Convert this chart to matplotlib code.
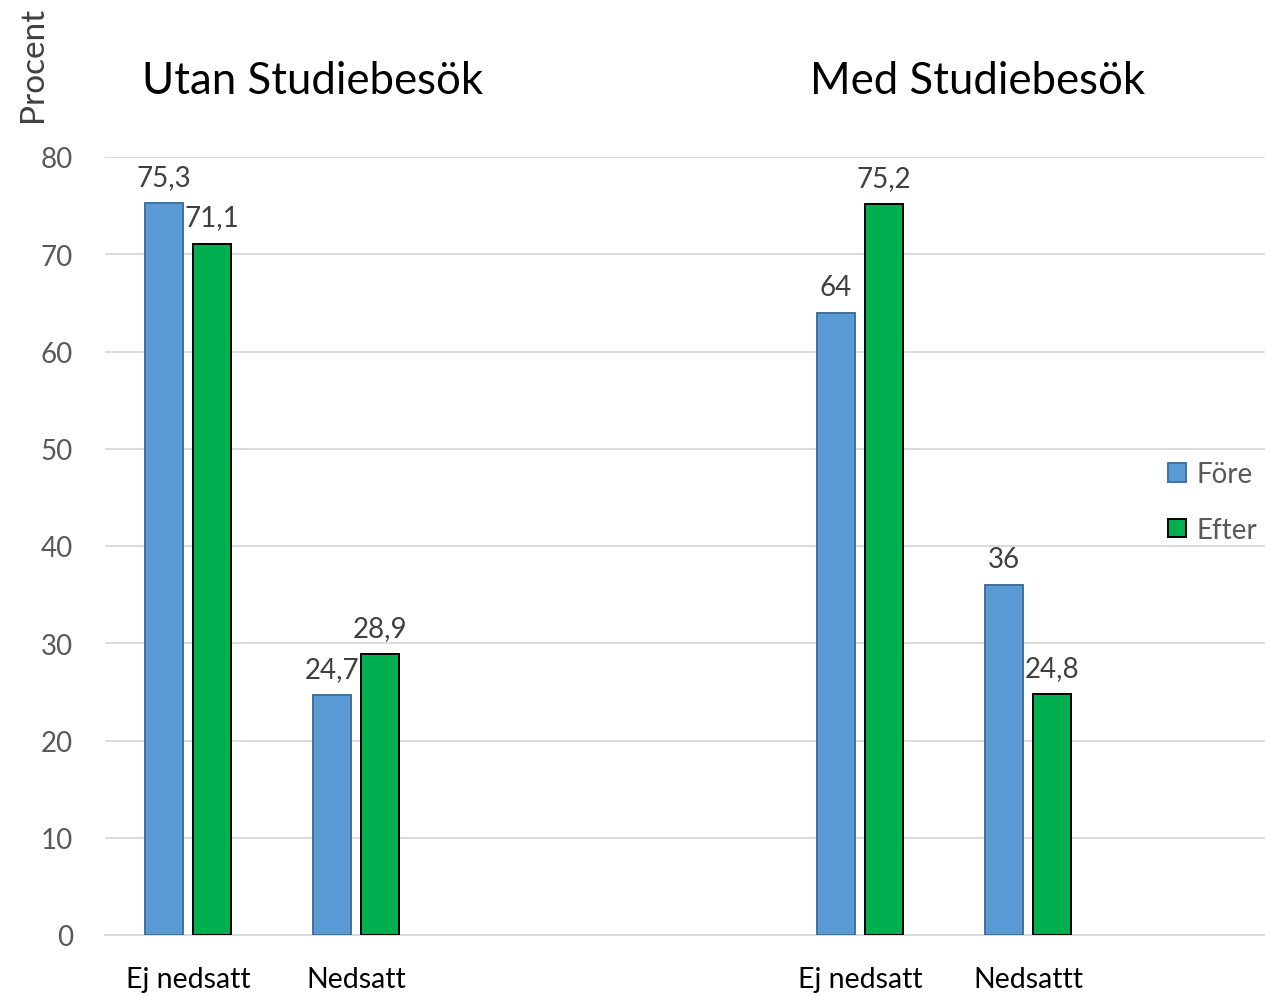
import matplotlib
matplotlib.use("Agg")
import matplotlib.pyplot as plt
from matplotlib.patches import Patch

plt.rcParams['font.family'] = ['Lato', 'DejaVu Sans']

categories = ["Ej nedsatt", "Nedsatt", "Ej nedsatt", "Nedsattt"]
positions = [0, 1, 4, 5]
fore = [75.3, 24.7, 64, 36]
efter = [71.1, 28.9, 75.2, 24.8]
series_names = ["Före", "Efter"]
panel_titles = ["Utan Studiebesök", "Med Studiebesök"]
yticks = [0, 10, 20, 30, 40, 50, 60, 70, 80]

c_fore, c_fore_edge = "#5B9BD5", "#41719C"
c_efter, c_efter_edge = "#00B050", "#000000"

W, H = 1265, 995
fig = plt.figure(figsize=(W / 100, H / 100), dpi=100)
ax = fig.add_axes([105 / W, 1 - 936 / H, 1 - 105 / W, (936 - 158) / H])

bw = 0.226
off = 0.143
xf = [p - off for p in positions]
xe = [p + off for p in positions]
ax.bar(xf, fore, width=bw, color=c_fore, edgecolor=c_fore_edge, linewidth=1.4, zorder=3)
ax.bar(xe, efter, width=bw, color=c_efter, edgecolor=c_efter_edge, linewidth=1.4, zorder=3)

def fmt(v):
    return f"{v:g}".replace(".", ",")

for xs, vals in ((xf, fore), (xe, efter)):
    for x, v in zip(xs, vals):
        ax.annotate(fmt(v), (x, v), xytext=(0, 13), textcoords="offset points",
                    ha="center", va="baseline", fontsize=20, color="#404040")

ax.set_xlim(-0.494, 6.41)
ax.set_ylim(0, 80)
ax.set_yticks(yticks)
ax.set_xticks(positions)
ax.set_xticklabels(categories, fontsize=20.5, color="black")
ax.tick_params(axis='x', length=0, pad=22)
ax.tick_params(axis='y', length=0, pad=23, labelsize=20, labelcolor="#595959")
ax.grid(axis='y', color="#D9D9D9", linewidth=1.3, zorder=0)
for s in ("left", "right", "top"):
    ax.spines[s].set_visible(False)
ax.spines["bottom"].set_color("#D9D9D9")
ax.spines["bottom"].set_linewidth(1.3)

fig.text(33 / W, 1 - 64 / H, "Procent", rotation=90, ha="center", va="center",
         fontsize=24, color="#404040")
fig.text(313 / W, 1 - 81 / H, panel_titles[0], ha="center", va="center", fontsize=31.5, color="black")
fig.text(978 / W, 1 - 81 / H, panel_titles[1], ha="center", va="center", fontsize=31.5, color="black")

handles = [Patch(facecolor=c_fore, edgecolor=c_fore_edge, linewidth=1.4),
           Patch(facecolor=c_efter, edgecolor=c_efter_edge, linewidth=1.4)]
fig.legend(handles, series_names, loc="center left", bbox_to_anchor=(1168 / W, 1 - 503 / H),
           frameon=False, fontsize=20, handlelength=0.65, handleheight=0.65,
           handletextpad=0.36, labelspacing=1.05, borderpad=0, borderaxespad=0,
           labelcolor="#595959")

fig.savefig("out.png", dpi=100)
